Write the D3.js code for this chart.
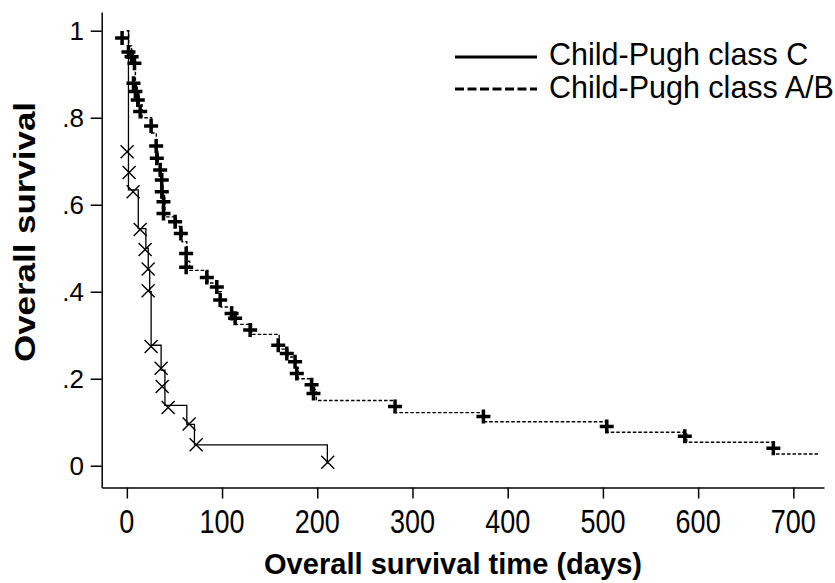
<!DOCTYPE html>
<html>
<head>
<meta charset="utf-8">
<script src="https://cdn.jsdelivr.net/npm/d3@7"></script>
<style>
  body { margin: 0; background: #fff; }
  svg { display: block; font-family: "Liberation Sans", Arial, sans-serif; }
</style>
</head>
<body>
<svg width="835" height="583"></svg>
<script>
// Data ======================================================
// Child-Pugh class C : step curve (time in days, survival)
var cTimes = [0, 1.7, 12, 20, 22.5, 24, 25.5, 36, 40, 63, 71, 210.6];
var cSurv  = [1, 0.634, 0.545, 0.50, 0.45, 0.40, 0.277, 0.22, 0.139, 0.095, 0.048, 0.005];
// Child-Pugh class C : x markers
var cMarkTimes = [0.3, 2.4, 6.6, 14, 19.2, 22.4, 22.4, 25.5, 36, 37.1, 43.4, 65.4, 72.8, 211];
var cMarkSurv  = [0.722, 0.674, 0.630, 0.543, 0.497, 0.452, 0.402, 0.274, 0.224, 0.182, 0.134, 0.096, 0.048, 0.008];

// Child-Pugh class A/B : step curve
var abTimes = [0, 2, 5, 7, 9, 11, 13, 16, 26, 31, 33, 36, 37, 38, 40, 52, 58, 63, 66, 85, 95, 99, 111, 115, 131, 160, 169, 177, 180, 195, 199, 282, 375, 505, 588, 680, 728];
var abSurv  = [1, 0.965, 0.945, 0.93, 0.87, 0.85, 0.83, 0.80, 0.765, 0.72, 0.695, 0.665, 0.645, 0.615, 0.572, 0.55, 0.515, 0.47, 0.449, 0.42, 0.40, 0.365, 0.345, 0.325, 0.302, 0.268, 0.25, 0.225, 0.20, 0.175, 0.150, 0.122, 0.101, 0.077, 0.054, 0.027, 0.027];
// Child-Pugh class A/B : + markers
var abMarkTimes = [-5, 1.7, 5, 8, 7, 9, 11.5, 14, 25.5, 30.8, 31.5, 35, 36.7, 36.7, 38.5, 38.5, 50.7, 56.7, 62.3, 62.3, 84, 94.5, 98, 110, 113.7, 129.5, 159, 168, 176.7, 178.5, 194, 196, 281.7, 374.5, 504, 586, 679];
var abMarkSurv  = [0.983, 0.951, 0.94, 0.925, 0.879, 0.86, 0.841, 0.814, 0.781, 0.735, 0.707, 0.68, 0.657, 0.63, 0.607, 0.58, 0.561, 0.534, 0.488, 0.456, 0.433, 0.411, 0.381, 0.35, 0.339, 0.312, 0.277, 0.258, 0.239, 0.212, 0.186, 0.166, 0.136, 0.113, 0.09, 0.068, 0.04];

var xTicks = [0, 100, 200, 300, 400, 500, 600, 700];
var yTicks = [0, 0.2, 0.4, 0.6, 0.8, 1];
var yTickLabels = ["0", ".2", ".4", ".6", ".8", "1"];
var legendLabels = ["Child-Pugh class C", "Child-Pugh class A/B"];

// Setup =====================================================
var svg = d3.select("svg");
var x = d3.scaleLinear().domain([-26.4, 732.2]).range([101.7, 824]);
var y = d3.scaleLinear().domain([-0.05, 1.043]).range([487.5, 12]);

function pairs(ts, ss) {
  return ts.map(function(t, i) { return [t, ss[i]]; });
}

var line = d3.line()
  .x(function(d) { return x(d[0]); })
  .y(function(d) { return y(d[1]); })
  .curve(d3.curveStepAfter);

// Axes ======================================================
svg.append("g")
  .attr("transform", "translate(0," + y.range()[0] + ")")
  .call(d3.axisBottom(x).tickValues(xTicks).tickSize(11).tickSizeOuter(0).tickFormat(""));
svg.append("g")
  .attr("transform", "translate(" + x.range()[0] + ",0)")
  .call(d3.axisLeft(y).tickValues(yTicks).tickSize(11).tickSizeOuter(0).tickFormat(""));
svg.selectAll(".domain, .tick line").attr("stroke", "#000").attr("stroke-width", 1.5);

// x tick labels (drawn tall as in the original)
svg.append("g").selectAll("text")
  .data(xTicks)
  .enter().append("text")
  .attr("transform", function(d) { return "translate(" + x(d) + ",533) scale(1,1.25)"; })
  .attr("text-anchor", "middle")
  .attr("font-size", 27)
  .text(function(d) { return d; });

svg.append("g").selectAll("text")
  .data(yTicks)
  .enter().append("text")
  .attr("x", 84)
  .attr("y", function(d) { return y(d) + 9; })
  .attr("text-anchor", "end")
  .attr("font-size", 26)
  .text(function(d, i) { return yTickLabels[i]; });

svg.append("text")
  .attr("x", 453)
  .attr("y", 574)
  .attr("text-anchor", "middle")
  .attr("font-size", 29)
  .attr("font-weight", "bold")
  .attr("textLength", 378)
  .attr("lengthAdjust", "spacingAndGlyphs")
  .text("Overall survival time (days)");

svg.append("text")
  .attr("transform", "translate(35,232) rotate(-90)")
  .attr("text-anchor", "middle")
  .attr("font-size", 30)
  .attr("font-weight", "bold")
  .attr("textLength", 260)
  .attr("lengthAdjust", "spacingAndGlyphs")
  .text("Overall survival");

// Curves ====================================================
svg.append("path")
  .datum(pairs(abTimes, abSurv))
  .attr("fill", "none")
  .attr("stroke", "#000")
  .attr("stroke-width", 1.4)
  .attr("stroke-dasharray", "3.5,2")
  .attr("d", line);

svg.append("path")
  .datum(pairs(cTimes, cSurv))
  .attr("fill", "none")
  .attr("stroke", "#000")
  .attr("stroke-width", 1.3)
  .attr("d", line);

svg.append("g").selectAll("path")
  .data(pairs(cMarkTimes, cMarkSurv))
  .enter().append("path")
  .attr("transform", function(d) { return "translate(" + x(d[0]) + "," + y(d[1]) + ")"; })
  .attr("d", "M-6.5,-6.5L6.5,6.5M-6.5,6.5L6.5,-6.5")
  .attr("stroke", "#000")
  .attr("stroke-width", 1.4);

svg.append("g").selectAll("path")
  .data(pairs(abMarkTimes, abMarkSurv))
  .enter().append("path")
  .attr("transform", function(d) { return "translate(" + x(d[0]) + "," + y(d[1]) + ")"; })
  .attr("d", "M-7,0H7M0,-7V7")
  .attr("stroke", "#000")
  .attr("stroke-width", 3.5);

// Legend ====================================================
var legend = svg.append("g");
legend.append("line")
  .attr("x1", 455).attr("x2", 537).attr("y1", 57).attr("y2", 57)
  .attr("stroke", "#000").attr("stroke-width", 3);
legend.append("line")
  .attr("x1", 455).attr("x2", 537).attr("y1", 89).attr("y2", 89)
  .attr("stroke", "#000").attr("stroke-width", 3)
  .attr("stroke-dasharray", "9,3.5");
legend.selectAll("text")
  .data(legendLabels)
  .enter().append("text")
  .attr("x", 549)
  .attr("y", function(d, i) { return 65 + i * 33; })
  .attr("font-size", 30.5)
  .text(function(d) { return d; });
</script>
</body>
</html>
